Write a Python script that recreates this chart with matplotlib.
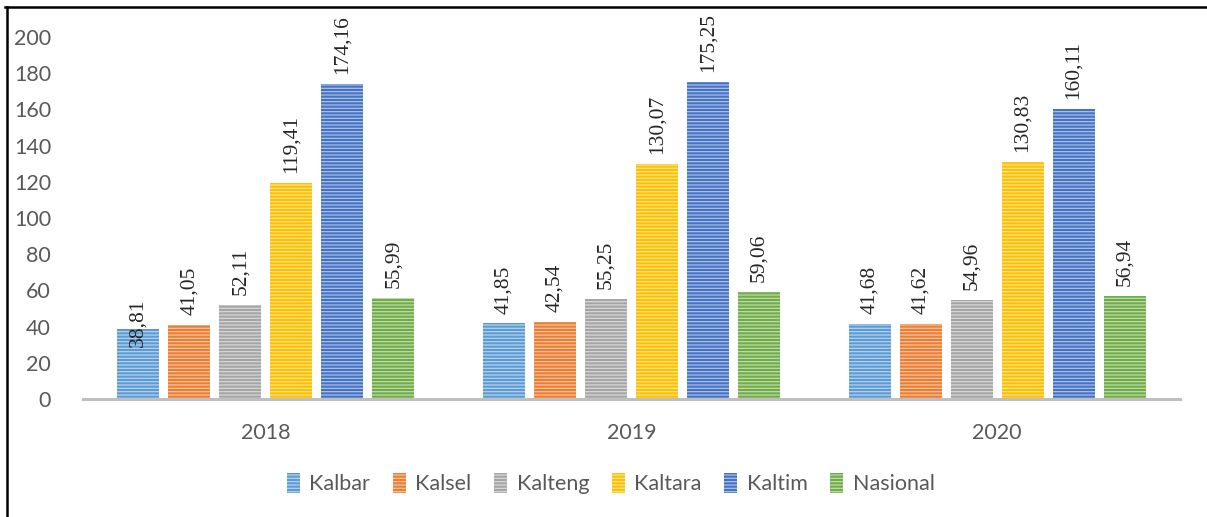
import matplotlib
matplotlib.use("Agg")
import matplotlib.pyplot as plt
import matplotlib.colors as mcolors
import numpy as np

# data
years = ["2018", "2019", "2020"]
regions = ["Kalbar", "Kalsel", "Kalteng", "Kaltara", "Kaltim", "Nasional"]
kalbar = [38.81, 41.85, 41.68]
kalsel = [41.05, 42.54, 41.62]
kalteng = [52.11, 55.25, 54.96]
kaltara = [119.41, 130.07, 130.83]
kaltim = [174.16, 175.25, 160.11]
nasional = [55.99, 59.06, 56.94]
series = [kalbar, kalsel, kalteng, kaltara, kaltim, nasional]
colors = ["#5B9BD5", "#ED7D31", "#A5A5A5", "#FFC000", "#4472C4", "#70AD47"]

plt.rcParams['hatch.linewidth'] = 0.9
plt.rcParams['font.family'] = ['Lato', 'DejaVu Sans']

fig = plt.figure(figsize=(12.07, 5.17), dpi=100)
ax = fig.add_axes([0.0688, 0.2282, 0.9088, 0.7002])

x = np.arange(len(years))
step = 0.1395
width = 0.115

def lighten(c, f):
    r, g, b = mcolors.to_rgb(c)
    return (r + (1 - r) * f, g + (1 - g) * f, b + (1 - b) * f)

# label 38,81 ditaruh agak turun seperti di excel
nudge = {(0, 0): -13}

for i, (vals, col) in enumerate(zip(series, colors)):
    pos = x + (i - 2.5) * step
    ax.bar(pos, vals, width, color=col, edgecolor=lighten(col, 0.55),
           hatch='-----', linewidth=0, label=regions[i], zorder=2)
    for j, v in enumerate(vals):
        ax.annotate(f"{v:.2f}".replace(".", ","), (pos[j], v),
                    xytext=(0, nudge.get((i, j), 7)), textcoords='offset points',
                    rotation=90, ha='center', va='bottom',
                    fontsize=15.5, family='Liberation Serif', color='#262626')

ax.set_xlim(-0.5, 2.5)
ax.set_ylim(0, 200)
ax.set_yticks(range(0, 201, 20))
ax.set_xticks(x)
ax.set_xticklabels(years)
ax.tick_params(axis='both', length=0, labelsize=15.5, colors='#595959')
ax.tick_params(axis='y', pad=23)
ax.tick_params(axis='x', pad=17)
for s in ['top', 'right', 'left']:
    ax.spines[s].set_visible(False)
ax.spines['bottom'].set_color('#BFBFBF')
ax.spines['bottom'].set_linewidth(2.2)

fig.legend(loc='center', bbox_to_anchor=(0.506, 0.064), ncol=6, frameon=False,
           fontsize=15.5, handlelength=0.6, handleheight=1.0, handletextpad=0.45,
           columnspacing=1.05, labelcolor='#595959')

# bingkai hitam (atas & kiri)
fig.add_artist(plt.Line2D([0.004, 1.0], [0.986, 0.986], color='black', lw=1.8))
fig.add_artist(plt.Line2D([0.0055, 0.0055], [0.0, 0.986], color='black', lw=1.8))

fig.savefig("out.png", dpi=100)
